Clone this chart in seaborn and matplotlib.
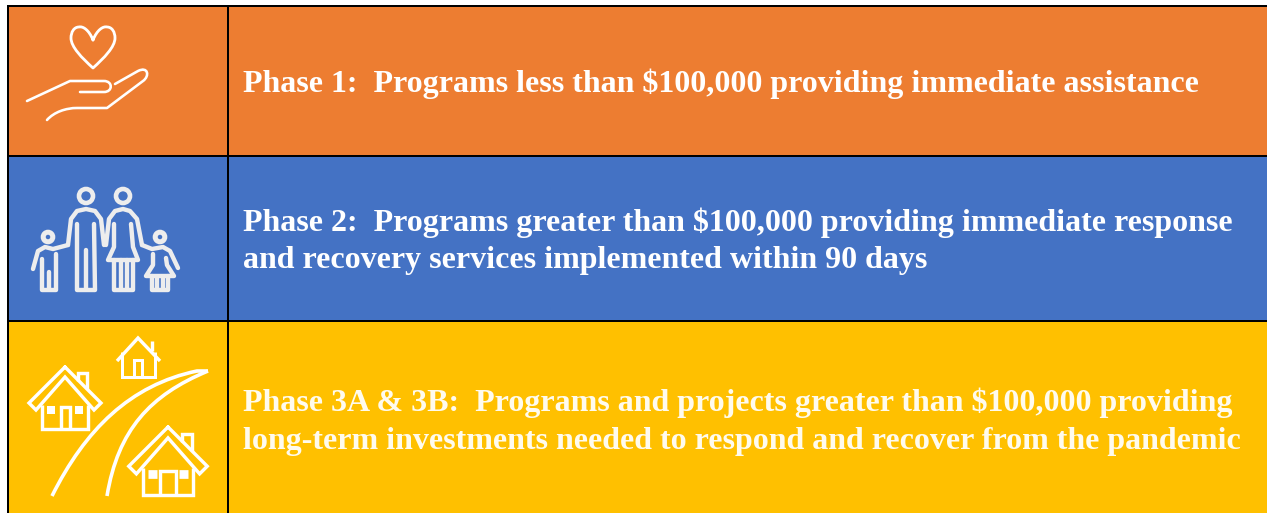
import numpy as np
import seaborn as sns
import matplotlib.pyplot as plt
from matplotlib.colors import ListedColormap
from matplotlib.path import Path
from matplotlib.patches import PathPatch, Circle

# rows of the table
phase_colors = ['#FFFFFF', '#ED7D31', '#4472C4', '#FFC000']
row_edges = [6, 156, 321, 513]
left_edge = 8
divider = 228
phase1_lines = ['Phase 1:  Programs less than $100,000 providing immediate assistance']
phase2_lines = ['Phase 2:  Programs greater than $100,000 providing immediate response',
                'and recovery services implemented within 90 days']
phase3_lines = ['Phase 3A & 3B:  Programs and projects greater than $100,000 providing',
                'long-term investments needed to respond and recover from the pandemic']

W, H = 1267, 513
PX = 0.72  # points per pixel at dpi 100

sns.set_theme(style='white')
fig = plt.figure(figsize=(W / 100, H / 100), dpi=100)
ax = fig.add_axes([0, 0, 1, 1])

# background cells, one per pixel so the rows can differ in height
rows = np.searchsorted(row_edges, np.arange(H) + 0.5)
grid = np.repeat(rows[:, None], W, axis=1)
grid[:, :left_edge] = 0
grid[:row_edges[0], :] = 0
sns.heatmap(grid, ax=ax, cmap=ListedColormap(phase_colors), vmin=0, vmax=3, cbar=False,
            xticklabels=False, yticklabels=False, rasterized=True)
ax.set_xlim(0, W)
ax.set_ylim(H, 0)
ax.axis('off')

# table lines
for y in row_edges[:-1]:
    ax.plot([left_edge - 1, W], [y, y], color='black', lw=2 * PX, solid_capstyle='butt')
for x in [left_edge, divider]:
    ax.plot([x, x], [row_edges[0] - 1, H], color='black', lw=2 * PX, solid_capstyle='butt')


def stroke(pts, color='white', lw=3, join='round', cap='round'):
    ax.plot([p[0] for p in pts], [p[1] for p in pts], color=color, lw=lw * PX,
            solid_joinstyle=join, solid_capstyle=cap)


def curve(verts, codes, color='white', lw=3, cap='round', fill='none'):
    ax.add_patch(PathPatch(Path(verts, codes), facecolor=fill, edgecolor=color, lw=lw * PX,
                           capstyle=cap, joinstyle='round'))


M, L, C = Path.MOVETO, Path.LINETO, Path.CURVE4

# heart in hand
curve([(93, 40), (89, 30), (83, 26), (79, 27), (74, 27), (71, 32), (71, 38),
       (71, 47), (82, 58), (93, 68),
       (104, 58), (115, 47), (115, 38), (115, 32), (112, 27), (107, 27),
       (103, 26), (97, 30), (93, 40)],
      [M, C, C, C, C, C, C, C, C, C, C, C, C, C, C, C, C, C, C], lw=2.8)
curve([(27, 101), (70, 81), (104, 81), (113, 81), (113, 92), (104, 92), (80, 92)],
      [M, L, L, C, C, C, L], lw=2.6)
curve([(115, 84), (138, 71), (148, 66), (150, 76), (143, 81), (107, 108), (77, 108),
       (66, 108), (54, 112), (47, 120)],
      [M, L, C, C, C, L, L, C, C, C], lw=2.6)

# family
fam = '#EDEDED'
for cx, cy, r, w in [(86, 196, 7, 4.6), (123, 196, 7, 4.6), (48, 237, 4.8, 5), (160, 237, 4.8, 5)]:
    ax.add_patch(Circle((cx, cy), r, facecolor='none', edgecolor=fam, lw=w * PX))
family_lines = [
    [(68, 245), (71, 219), (77, 211), (86, 209), (95, 211), (101, 219), (104, 245)],
    [(77, 224), (77, 290), (95, 290), (94, 224)],
    [(86, 250), (86, 288)],
    [(106, 245), (109, 219), (115, 211), (123, 209), (130, 211), (137, 219), (142, 245)],
    [(114, 224), (114, 247), (108, 260), (138, 260), (133, 247), (131, 224)],
    [(114, 260), (114, 290), (133, 290), (133, 260)],
    [(121, 260), (121, 288)],
    [(127, 260), (127, 288)],
    [(33, 269), (38, 251), (45, 247), (53, 249), (68, 245)],
    [(42, 259), (42, 290), (56, 290), (56, 254)],
    [(49, 272), (49, 288)],
    [(142, 245), (152, 249), (163, 247), (170, 251), (178, 268)],
    [(153, 254), (153, 265), (146, 276), (174, 276), (167, 265), (166, 258)],
    [(152, 276), (152, 290), (168, 290), (168, 276)],
    [(157, 277), (157, 288)],
    [(163, 277), (163, 288)],
]
for pts in family_lines:
    stroke(pts, color=fam, lw=4.4, cap='round')


# houses, shape given relative to the roof apex
def house(ax_, ay, s, door=4.5, lw=3.4):
    def pts(rel):
        return [(ax_ + s * x, ay + s * y) for x, y in rel]
    stroke(pts([(0, 0), (-36, 36), (-29, 43), (0, 10), (29, 43), (36, 36), (0, 0)]), lw=lw, join='miter')
    stroke(pts([(-23, 38), (-23, 62), (23, 62), (23, 38)]), lw=lw, join='miter', cap='butt')
    stroke(pts([(-door, 62), (-door, 40), (door, 40), (door, 62)]), lw=lw, join='miter', cap='butt')
    stroke(pts([(13, 14), (13, 6), (22, 6), (22, 22)]), lw=lw, join='miter', cap='butt')
    for wx in [-14, 14]:
        stroke(pts([(wx - 4, 43), (wx + 4, 43)]), lw=8 * s, cap='butt')


house(65, 367, 1.0)
house(168, 427, 1.09, door=7)

# small house at the top has a single line for its roof
stroke([(117, 361), (138, 338), (160, 361)], lw=3.4, join='miter', cap='butt')
stroke([(122, 352), (122, 377), (155, 377), (155, 352)], lw=3, join='miter', cap='butt')
stroke([(134, 377), (134, 360), (142, 360), (142, 377)], lw=3, join='miter', cap='butt')
stroke([(152, 341), (152, 351)], lw=3.4, cap='butt')

# road
curve([(52, 496), (85, 430), (130, 385), (197, 371), (208, 371)], [M, C, C, C, L], lw=3.6, cap='butt')
curve([(107, 496), (118, 430), (150, 395), (208, 371)], [M, C, C, C], lw=3.6, cap='butt')

# text
font = dict(family='Liberation Serif', fontweight='bold', fontsize=23.05, va='baseline', ha='left')
ax.text(243, 92, phase1_lines[0], color='#FFFFFF', **font)
ax.text(243, 231, phase2_lines[0], color='#FFFFFF', **font)
ax.text(243, 268, phase2_lines[1], color='#FFFFFF', **font)
ax.text(243, 411, phase3_lines[0], color='#FFFBEE', **font)
ax.text(243, 449, phase3_lines[1], color='#FFFBEE', **font)

fig.savefig('out.png', dpi=100)
